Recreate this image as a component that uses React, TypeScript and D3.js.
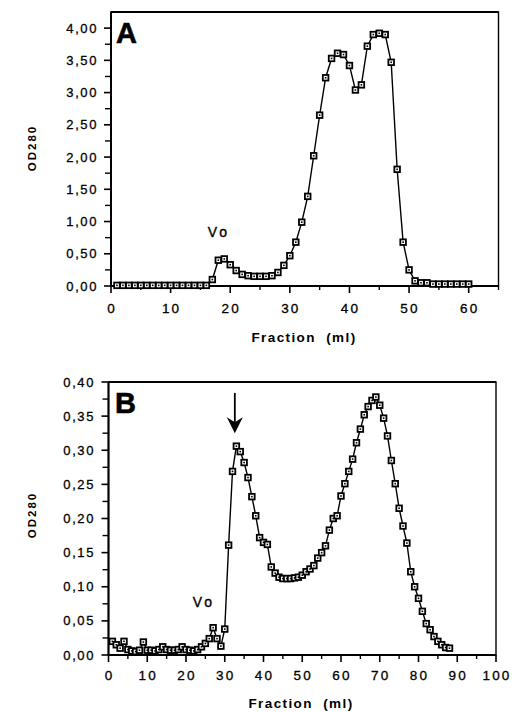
import React from "react";
import * as d3 from "d3";

// ---------- Panel A data ----------
const fractionsA = [
  1, 2, 3, 4, 5, 6, 7, 8, 9, 10, 11, 12, 13, 14, 15, 16, 17, 18, 19, 20,
  21, 22, 23, 24, 25, 26, 27, 28, 29, 30, 31, 32, 33, 34, 35, 36, 37, 38, 39, 40,
  41, 42, 43, 44, 45, 46, 47, 48, 49, 50, 51, 52, 53, 54, 55, 56, 57, 58, 59, 60,
];
const odA = [
  0.01, 0.01, 0.01, 0.01, 0.01, 0.01, 0.01, 0.01, 0.01, 0.01, 0.01, 0.01, 0.01, 0.01, 0.01, 0.01,
  0.1, 0.4, 0.42, 0.33, 0.24, 0.18, 0.16, 0.15, 0.15, 0.15, 0.16, 0.21, 0.32, 0.47,
  0.68, 0.99, 1.39, 2.02, 2.65, 3.23, 3.53, 3.61, 3.59, 3.42, 3.04, 3.12, 3.72, 3.9,
  3.92, 3.9, 3.47, 1.81, 0.68, 0.25, 0.08, 0.05, 0.05, 0.03, 0.03, 0.03, 0.03, 0.03, 0.03, 0.03,
];
const xTicksA = [0, 10, 20, 30, 40, 50, 60];
const xMinorA = [5, 15, 25, 35, 45, 55, 65];
const yTicksA = [0, 0.5, 1, 1.5, 2, 2.5, 3, 3.5, 4];
const yMinorA = [0.25, 0.75, 1.25, 1.75, 2.25, 2.75, 3.25, 3.75];

// ---------- Panel B data ----------
const fractionsB = [
  1, 2, 3, 4, 5, 6, 7, 8, 9, 10, 11, 12, 13, 14, 15, 16, 17, 18, 19, 20,
  21, 22, 23, 24, 25, 26, 27, 28, 29, 30, 31, 32, 33, 34, 35, 36, 37, 38, 39, 40,
  41, 42, 43, 44, 45, 46, 47, 48, 49, 50, 51, 52, 53, 54, 55, 56, 57, 58, 59, 60,
  61, 62, 63, 64, 65, 66, 67, 68, 69, 70, 71, 72, 73, 74, 75, 76, 77, 78, 79, 80,
  81, 82, 83, 84, 85, 86, 87, 88,
];
const odB = [
  0.02, 0.015, 0.01, 0.02, 0.008, 0.006, 0.005, 0.007, 0.019, 0.007,
  0.007, 0.006, 0.008, 0.012, 0.008, 0.007, 0.007, 0.008, 0.012, 0.008,
  0.007, 0.006, 0.008, 0.012, 0.017, 0.024, 0.04, 0.024, 0.013, 0.038,
  0.161, 0.269, 0.306, 0.298, 0.282, 0.26, 0.232, 0.204, 0.172, 0.165,
  0.162, 0.129, 0.12, 0.114, 0.112, 0.112, 0.112, 0.113, 0.114, 0.117,
  0.122, 0.126, 0.131, 0.142, 0.15, 0.16, 0.183, 0.2, 0.204, 0.233,
  0.251, 0.269, 0.287, 0.311, 0.331, 0.352, 0.364, 0.373, 0.378, 0.366,
  0.347, 0.321, 0.285, 0.251, 0.215, 0.189, 0.164, 0.122, 0.1, 0.083,
  0.064, 0.046, 0.037, 0.027, 0.02, 0.015, 0.011, 0.01,
];
const xTicksB = [0, 10, 20, 30, 40, 50, 60, 70, 80, 90, 100];
const xMinorB = [5, 15, 25, 35, 45, 55, 65, 75, 85, 95];
const yTicksB = [0, 0.05, 0.1, 0.15, 0.2, 0.25, 0.3, 0.35, 0.4];
const yMinorB = [0.025, 0.075, 0.125, 0.175, 0.225, 0.275, 0.325, 0.375];

const FONT = "'Liberation Sans', Arial, Helvetica, sans-serif";
const fmt = (v: number) => d3.format(".2f")(v).replace(".", ",");

type PanelProps = {
  fx: number[];
  vy: number[];
  xDomain: [number, number];
  yDomain: [number, number];
  xRange: [number, number];
  yRange: [number, number];
  xTicks: number[];
  xMinor: number[];
  yTicks: number[];
  yMinor: number[];
  letter: string;
  letterPos: [number, number];
  voPos: [number, number];
  yTitleY: number;
  yLabelRight: number;
  xLabelY: number;
  xTitleY: number;
  xTitleX: number;
  arrow?: { f: number; top: number; tip: number };
};

function Panel(p: PanelProps) {
  const x = d3.scaleLinear().domain(p.xDomain).range(p.xRange);
  const y = d3.scaleLinear().domain(p.yDomain).range(p.yRange);
  const pts = p.fx.map((f, i) => [f, p.vy[i]] as [number, number]);
  const line = d3
    .line<[number, number]>()
    .x((d) => x(d[0]))
    .y((d) => y(d[1]));
  const [x0, x1] = p.xRange;
  const [yb, yt] = p.yRange;
  const ms = 5.6;
  return (
    <g>
      {/* frame */}
      <rect x={x0} y={yt} width={x1 - x0} height={yb - yt} fill="none" stroke="#000" strokeWidth={1.4} />
      <line x1={x0} x2={x1} y1={yb} y2={yb} stroke="#000" strokeWidth={2} />
      <line x1={x0} x2={x0} y1={yt} y2={yb} stroke="#000" strokeWidth={2} />
      <line x1={x0} x2={x1} y1={yt} y2={yt} stroke="#000" strokeWidth={1.8} />
      {/* y ticks */}
      {p.yTicks.map((t) => (
        <g key={"yt" + t}>
          <line x1={x0 - 7} x2={x0} y1={y(t)} y2={y(t)} stroke="#000" strokeWidth={1.6} />
          <text
            x={p.yLabelRight}
            y={y(t) + 4.5}
            textAnchor="end"
            fontFamily={FONT}
            fontSize={13}
            letterSpacing={1.6}
            stroke="#000"
            strokeWidth={0.3}
          >
            {fmt(t)}
          </text>
        </g>
      ))}
      {p.yMinor.map((t) => (
        <line key={"ym" + t} x1={x0 - 6} x2={x0} y1={y(t)} y2={y(t)} stroke="#000" strokeWidth={1.4} />
      ))}
      {/* x ticks */}
      {p.xTicks.map((t) => (
        <g key={"xt" + t}>
          <line x1={x(t)} x2={x(t)} y1={yb} y2={yb + 7} stroke="#000" strokeWidth={1.6} />
          <text
            x={x(t) + 1}
            y={p.xLabelY}
            textAnchor="middle"
            fontFamily={FONT}
            fontSize={13.5}
            letterSpacing={2.2}
            stroke="#000"
            strokeWidth={0.3}
          >
            {t}
          </text>
        </g>
      ))}
      {p.xMinor.map((t) => (
        <line key={"xm" + t} x1={x(t)} x2={x(t)} y1={yb} y2={yb + 4} stroke="#000" strokeWidth={1.4} />
      ))}
      {/* data line */}
      <path d={line(pts) || ""} fill="none" stroke="#000" strokeWidth={1.4} />
      {pts.map((d, i) => (
        <g key={"m" + i}>
          <rect
            x={x(d[0]) - ms / 2}
            y={y(d[1]) - ms / 2}
            width={ms}
            height={ms}
            fill="#fff"
            stroke="#000"
            strokeWidth={1.8}
          />
          <rect x={x(d[0]) - 0.8} y={y(d[1]) - 0.8} width={1.6} height={1.6} fill="#000" />
        </g>
      ))}
      {/* letter */}
      <text x={p.letterPos[0]} y={p.letterPos[1]} fontFamily={FONT} fontWeight="bold" fontSize={29} stroke="#000" strokeWidth={0.6}>
        {p.letter}
      </text>
      {/* Vo */}
      <text
        x={x(p.voPos[0])}
        y={y(p.voPos[1])}
        textAnchor="middle"
        fontFamily={FONT}
        fontSize={14}
        letterSpacing={3}
        stroke="#000"
        strokeWidth={0.35}
      >
        Vo
      </text>
      {p.arrow && (
        <g>
          <line
            x1={x(p.arrow.f)}
            x2={x(p.arrow.f)}
            y1={y(p.arrow.top)}
            y2={y(p.arrow.tip) - 8}
            stroke="#000"
            strokeWidth={1.8}
          />
          <path
            d={`M${x(p.arrow.f) - 8},${y(p.arrow.tip) - 16} L${x(p.arrow.f)},${y(p.arrow.tip) - 11} L${
              x(p.arrow.f) + 8
            },${y(p.arrow.tip) - 16} L${x(p.arrow.f)},${y(p.arrow.tip)} Z`}
            fill="#000"
          />
        </g>
      )}
      {/* axis titles */}
      <text
        transform={`translate(36,${p.yTitleY}) rotate(-90)`}
        textAnchor="middle"
        fontFamily={FONT}
        fontWeight="bold"
        fontSize={11.5}
        letterSpacing={2}
      >
        OD280
      </text>
      <text
        x={p.xTitleX}
        y={p.xTitleY}
        textAnchor="middle"
        fontFamily={FONT}
        fontWeight="bold"
        fontSize={13.5}
        letterSpacing={1.4}
        style={{ whiteSpace: "pre" }}
      >
        {"Fraction  (ml)"}
      </text>
    </g>
  );
}

export default function App() {
  return (
    <svg
      width={512}
      height={712}
      viewBox="0 0 512 712"
      style={{ position: "absolute", left: 0, top: 0, background: "#fff" }}
    >
      <rect x={0} y={0} width={512} height={712} fill="#fff" />
      <Panel
        fx={fractionsA}
        vy={odA}
        xDomain={[0, 65]}
        yDomain={[0, 4.25]}
        xRange={[111, 498.5]}
        yRange={[286, 12]}
        xTicks={xTicksA}
        xMinor={xMinorA}
        yTicks={yTicksA}
        yMinor={yMinorA}
        letter="A"
        letterPos={[116, 43]}
        voPos={[18.1, 0.76]}
        yTitleY={148}
        yLabelRight={98}
        xLabelY={313}
        xTitleY={342}
        xTitleX={304}
      />
      <Panel
        fx={fractionsB}
        vy={odB}
        xDomain={[0, 100]}
        yDomain={[0, 0.4]}
        xRange={[108.5, 496]}
        yRange={[655, 382]}
        xTicks={xTicksB}
        xMinor={xMinorB}
        yTicks={yTicksB}
        yMinor={yMinorB}
        letter="B"
        letterPos={[115, 413]}
        voPos={[24.6, 0.07]}
        yTitleY={515}
        yLabelRight={95}
        xLabelY={680}
        xTitleY={708}
        xTitleX={301}
        arrow={{ f: 32.6, top: 0.384, tip: 0.325 }}
      />
    </svg>
  );
}
